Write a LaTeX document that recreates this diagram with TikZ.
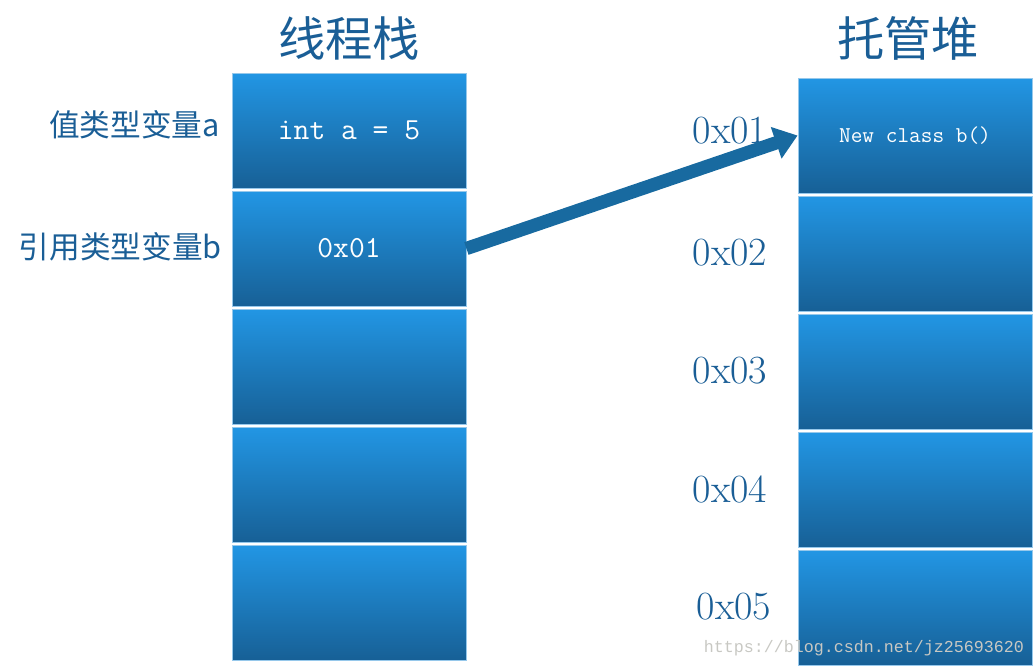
\documentclass[tikz,border=0pt]{standalone}
\usepackage{fontspec}
\newfontfamily\cjk{Noto Sans CJK SC}
\newfontfamily\wmfont{Liberation Mono}
\usetikzlibrary{arrows.meta}
\definecolor{boxtop}{RGB}{34,150,228}
\definecolor{boxbot}{RGB}{23,96,150}
\definecolor{boxedge}{RGB}{150,200,235}
\definecolor{labelblue}{RGB}{26,94,150}
\definecolor{arrowblue}{RGB}{24,106,160}
\definecolor{wmgray}{RGB}{200,200,195}
\begin{document}
\begin{tikzpicture}[x=0.75pt,y=-0.75pt,
  cell/.style={draw=boxedge, line width=0.6pt, top color=boxtop, bottom color=boxbot,
    minimum width=175.5pt, minimum height=86.25pt, inner sep=0pt, text=white,
    font=\ttfamily\fontsize{23}{25}\selectfont},
  title/.style={text=labelblue, font=\cjk\fontsize{35.5}{38}\selectfont},
  varlabel/.style={anchor=east, inner sep=0pt, text=labelblue, font=\cjk\fontsize{23}{25}\selectfont},
  addr/.style={text=labelblue, font=\fontsize{30}{32}\selectfont},
  ref/.style={draw=arrowblue, line width=10pt, -{Triangle[length=17pt,width=24pt]}}]
  \def\step{118}
  \useasboundingbox (0,0) rectangle (1035,668);

  %%% thread stack
  \node[title] (stacktitle) at (349,38) {线程栈};
  \foreach \i/\t in {1/{int a = 5},2/0x01,3/{},4/{},5/{}}
    \node[cell] (s\i) at (349,{130.5+\step*(\i-1)}) {\t};
  \node[varlabel] (vara) at (220,125) {值类型变量a};
  \node[varlabel] (varb) at (222,247) {引用类型变量b};

  %%% managed heap
  \node[title] (heaptitle) at (908,38) {托管堆};
  \foreach \i/\t in {1/{\fontsize{17}{19}\selectfont New class b()},2/{},3/{},4/{},5/{}}
    \node[cell] (h\i) at (915,{135.5+\step*(\i-1)}) {\t};
  \foreach \i/\x/\y in {1/730/131,2/730/253,3/730/371,4/730/489,5/734/607}
    \node[addr] (a\i) at (\x,\y) {0x0\i};

  %%% reference
  \draw[ref] (s2.east) -- (h1.west);

  \node[text=wmgray, font=\wmfont\fontsize{12.5}{14}\selectfont] (wm) at (864,648)
    {https://blog.csdn.net/jz25693620};
\end{tikzpicture}
\end{document}
